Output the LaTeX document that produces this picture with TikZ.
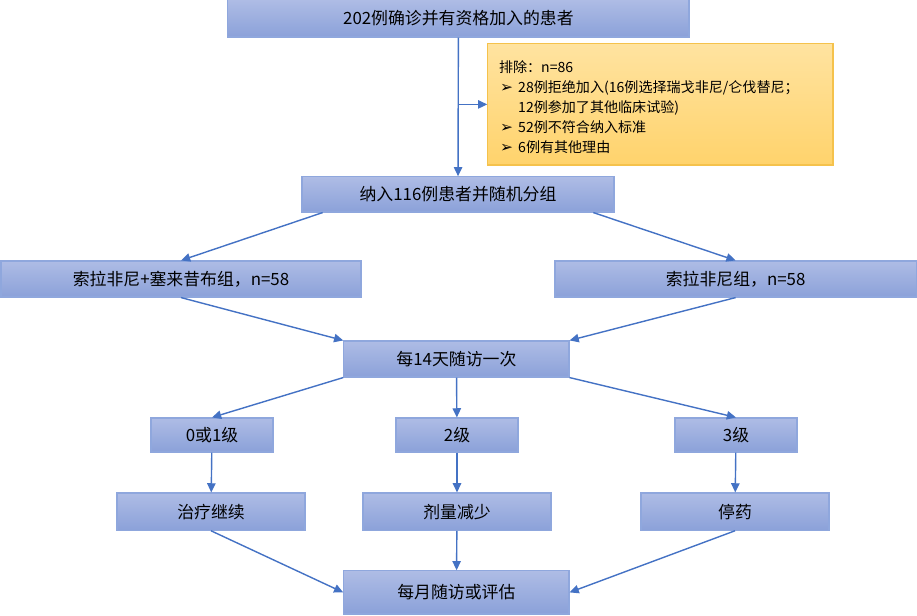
\documentclass[tikz,border=0pt]{standalone}
\usepackage{fontspec}
\setmainfont{Noto Sans CJK SC}
\newfontfamily\symfont{DejaVu Sans}
\usetikzlibrary{arrows.meta,positioning}

\definecolor{boxtop}{HTML}{AEBCE5}
\definecolor{boxbot}{HTML}{8BA1D9}
\definecolor{boxline}{HTML}{8FA7DD}
\definecolor{linkblue}{HTML}{4472C4}
\definecolor{notetop}{HTML}{FFE3A0}
\definecolor{notebot}{HTML}{FFD36C}
\definecolor{noteline}{HTML}{F5C24C}

\newcommand{\bul}{\makebox[0.48cm][l]{\hspace{0.03cm}{\symfont\fontsize{11}{10}\selectfont ➢}}}

\begin{document}
\begin{tikzpicture}[
        font=\fontsize{12}{14}\selectfont,
        % Block styles
        stage/.style={
            rectangle,
            draw=boxline,
            line width=0.8pt,
            top color=boxtop,
            bottom color=boxbot,
            minimum width=#1,
            minimum height=0.9cm,
            inner sep=0pt,
            align=center
        },
        note/.style={
            rectangle,
            draw=noteline,
            line width=0.8pt,
            top color=notetop,
            bottom color=notebot,
            minimum width=8.63cm,
            minimum height=3.03cm
        },
        link/.style={-{Triangle[length=2.3mm,width=2.1mm]}, draw=linkblue, line width=1pt}
    ]
    \useasboundingbox (0,0) rectangle (22.925,-15.375);

    % Screening
    \node[stage=11.53cm, minimum height=0.93cm] (screen) at (11.46, -0.46) {202例确诊并有资格加入的患者};
    \node[note] (excl) at (16.51, -2.61) {};
    \node[anchor=west, font=\fontsize{10}{14.2}\selectfont] (excltext) at ([shift={(0.17,-0.1)}]excl.west) {%
        \begin{tabular}{@{}l@{}l@{}}
        \multicolumn{2}{@{}l@{}}{排除：n=86}\\
        \bul & 28例拒绝加入(16例选择瑞戈非尼/仑伐替尼；\\
             & 12例参加了其他临床试验)\\
        \bul & 52例不符合纳入标准\\
        \bul & 6例有其他理由
        \end{tabular}};

    % Randomisation
    \node[stage=7.8cm, minimum height=0.88cm] (enrol) at (11.45, -4.86) {纳入116例患者并随机分组};
    \node[stage=9.0cm] (armA) at (4.525, -6.975) {索拉非尼+塞来昔布组，n=58};
    \node[stage=9.03cm] (armB) at (18.39, -6.975) {索拉非尼组，n=58};

    % Follow-up
    \node[stage=5.63cm] (visit) at (11.41, -8.975) {每14天随访一次};
    \node[stage=3.05cm, minimum height=0.85cm] (g01) at (5.3, -10.875) {0或1级};
    \node[stage=3.05cm, minimum height=0.85cm] (g2) at (11.425, -10.875) {2级};
    \node[stage=3.05cm, minimum height=0.85cm] (g3) at (18.4, -10.875) {3级};
    \node[stage=4.7cm, minimum height=0.93cm] (cont) at (5.275, -12.79) {治疗继续};
    \node[stage=4.7cm, minimum height=0.93cm] (reduce) at (11.425, -12.79) {剂量减少};
    \node[stage=4.7cm, minimum height=0.93cm] (stop) at (18.375, -12.79) {停药};
    \node[stage=5.63cm, minimum height=1.08cm] (monthly) at (11.41, -14.81) {每月随访或评估};

    % Connections
    \coordinate (branch) at (screen.south |- excl.west);
    \draw[link] (screen) -- (enrol);
    \draw[link] (branch) -- (excl.west);
    \draw[link] ([xshift=0.53cm]enrol.south west) -- (armA.north);
    \draw[link] ([xshift=-0.53cm]enrol.south east) -- (armB.north);
    \draw[link] (armA.south) -- (visit.north west);
    \draw[link] (armB.south) -- (visit.north east);
    \draw[link] (visit.south west) -- (g01.north);
    \draw[link] (visit) -- (g2);
    \draw[link] (visit.south east) -- (g3.north);
    \draw[link] (g01) -- (cont);
    \draw[link] (g2) -- (reduce);
    \draw[link] (g3) -- (stop);
    \draw[link] (cont.south) -- (monthly.west);
    \draw[link] (reduce) -- (monthly);
    \draw[link] (stop.south) -- (monthly.east);

\end{tikzpicture}
\end{document}
